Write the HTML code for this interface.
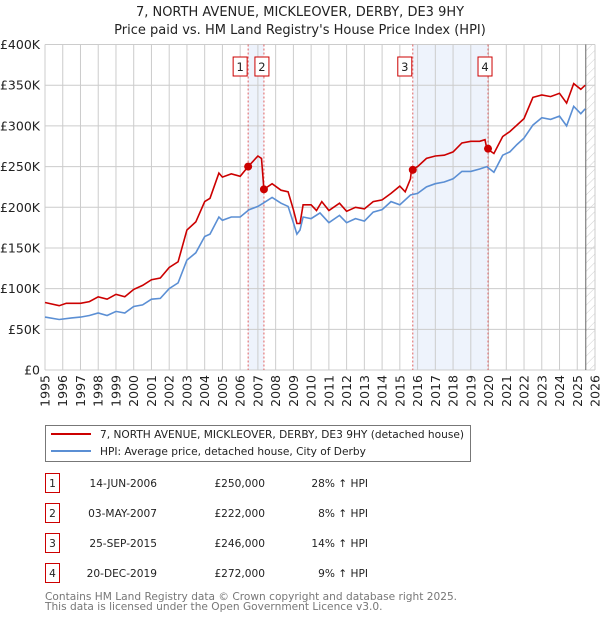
<!DOCTYPE html>
<html><head><meta charset="utf-8"><style>
body{margin:0;background:#fff;font-family:"DejaVu Sans","Liberation Sans",sans-serif;}
svg text{font-family:"DejaVu Sans","Liberation Sans",sans-serif;}
</style></head><body>
<svg id="chart" width="600" height="620" viewBox="0 0 600 620" xmlns="http://www.w3.org/2000/svg">
<text x="300" y="16" text-anchor="middle" font-size="13" fill="#222">7, NORTH AVENUE, MICKLEOVER, DERBY, DE3 9HY</text>
<text x="300" y="34" text-anchor="middle" font-size="13" fill="#222">Price paid vs. HM Land Registry's House Price Index (HPI)</text>
<g id="plot"></g>
<g>
<rect x="45.5" y="425.5" width="425" height="36" fill="#fff" stroke="#777"/>
<line x1="51" y1="434" x2="91" y2="434" stroke="#cc0000" stroke-width="2"/>
<text x="100" y="438" font-size="10.6" fill="#222">7, NORTH AVENUE, MICKLEOVER, DERBY, DE3 9HY (detached house)</text>
<line x1="51" y1="451" x2="91" y2="451" stroke="#5b8fd4" stroke-width="2"/>
<text x="100" y="455" font-size="10.6" fill="#222">HPI: Average price, detached house, City of Derby</text>
</g>
<g id="table" font-size="10.6" fill="#222"></g>
<text x="45" y="600" font-size="10.6" fill="#777">Contains HM Land Registry data © Crown copyright and database right 2025.</text>
<text x="45" y="610" font-size="10.6" fill="#777">This data is licensed under the Open Government Licence v3.0.</text>
</svg>
<script>
const hpiYears=[1995,1995.8,1996.5,1997,1997.5,1998,1998.5,1999,1999.5,2000,2000.5,2001,2001.5,2002,2002.5,2003,2003.5,2004,2004.3,2004.8,2005,2005.5,2006,2006.5,2007,2007.3,2007.8,2008.3,2008.7,2009,2009.2,2009.37,2009.55,2010,2010.5,2011,2011.6,2012,2012.5,2013,2013.5,2014,2014.5,2015,2015.6,2016,2016.5,2017,2017.5,2018,2018.5,2019,2019.5,2019.9,2020.3,2020.8,2021.2,2021.6,2022,2022.5,2023,2023.5,2024,2024.4,2024.8,2025.2,2025.45];
const hpiValues=[65,62,64,65,67,70,67,72,70,78,80,87,88,100,107,135,144,164,167,188,184,188,188,197,201,205,212,205,201,181,167,172,188,186,193,181,190,181,186,183,194,197,207,203,215,217,225,229,231,235,244,244,247,250,243,264,268,277,285,301,310,308,312,300,324,315,321];
const propYears=[1995,1995.8,1996.2,1997,1997.5,1998,1998.5,1999,1999.5,2000,2000.5,2001,2001.5,2002,2002.5,2003,2003.5,2004,2004.3,2004.8,2005,2005.5,2006,2006.45,2007,2007.2,2007.34,2007.8,2008.3,2008.7,2009,2009.2,2009.37,2009.55,2010,2010.3,2010.6,2011,2011.6,2012,2012.5,2013,2013.5,2014,2014.5,2015,2015.3,2015.6,2015.65,2016,2016.5,2017,2017.5,2018,2018.5,2019,2019.5,2019.8,2019.9,2020.3,2020.8,2021.2,2021.6,2022,2022.5,2023,2023.5,2024,2024.4,2024.8,2025.2,2025.45];
const propValues=[83,79,82,82,84,90,87,93,90,99,104,111,113,126,133,172,182,207,211,242,237,241,238,250,263,260,222,229,221,219,197,180,180,203,203,196,207,196,205,195,200,198,207,209,217,226,219,235,246,250,260,263,264,268,279,281,281,283,272,266,287,293,301,309,335,338,336,340,328,352,345,350];
const saleNums=["1","2","3","4"];
const saleYears=[2006.45,2007.34,2015.73,2019.97];
const salePrices=[250,222,246,272];
const saleDates=["14-JUN-2006","03-MAY-2007","25-SEP-2015","20-DEC-2019"];
const saleLabels=["£250,000","£222,000","£246,000","£272,000"];
const salePcts=["28% \u2191 HPI","8% \u2191 HPI","14% \u2191 HPI","9% \u2191 HPI"];
const yTicks=[0,50,100,150,200,250,300,350,400];
const yTickLabels=["£0","£50K","£100K","£150K","£200K","£250K","£300K","£350K","£400K"];
const xTicks=[1995,1996,1997,1998,1999,2000,2001,2002,2003,2004,2005,2006,2007,2008,2009,2010,2011,2012,2013,2014,2015,2016,2017,2018,2019,2020,2021,2022,2023,2024,2025,2026];
const dataEndYear=2025.48;

const NS="http://www.w3.org/2000/svg";
const L=45,R=595,T=44.5,B=370;
const xs=y=>L+(y-1995)/(2026-1995)*(R-L);
const ys=v=>B-v/400*(B-T);
const plot=document.getElementById('plot');
function mk(tag,attrs,parent){const e=document.createElementNS(NS,tag);for(const k in attrs)e.setAttribute(k,attrs[k]);(parent||plot).appendChild(e);return e;}

let b=mk('rect',{x:xs(saleYears[0]),y:T,width:xs(saleYears[1])-xs(saleYears[0]),height:B-T,fill:'#eef3fc'});


b=mk('rect',{x:xs(saleYears[2]),y:T,width:xs(saleYears[3])-xs(saleYears[2]),height:B-T,fill:'#eef3fc'});



yTicks.forEach((v,i)=>{
  const g=mk('line',{x1:L,x2:R,y1:ys(v),y2:ys(v),stroke:'#cccccc','stroke-width':1});
  
  
  const t=mk('text',{x:L-5,y:ys(v)+4.5,'text-anchor':'end','font-size':12.5,fill:'#222'});
  t.textContent=yTickLabels[i];
  
  
});
xTicks.forEach(yr=>{
  const g=mk('line',{x1:xs(yr),x2:xs(yr),y1:T,y2:B,stroke:'#cccccc','stroke-width':1});
  
  
  const t=mk('text',{x:0,y:0,'text-anchor':'end','font-size':12.5,fill:'#222',transform:`translate(${xs(yr)+4.5},${B+5}) rotate(-90)`});
  t.textContent=yr;
  
  
});

const defs=mk('defs',{});
const pat=mk('pattern',{id:'hatch',width:6,height:6,patternUnits:'userSpaceOnUse',patternTransform:'rotate(45)'},defs);
mk('line',{x1:0,y1:0,x2:0,y2:6,stroke:'#cfcfcf','stroke-width':1},pat);
let h=mk('rect',{x:xs(dataEndYear),y:T,width:R-xs(dataEndYear),height:B-T,fill:'url(#hatch)'});


let el=mk('line',{x1:xs(dataEndYear),x2:xs(dataEndYear),y1:T,y2:B,stroke:'#666','stroke-width':1});



saleYears.forEach((yr,i)=>{
  const v=mk('line',{x1:xs(yr),x2:xs(yr),y1:T,y2:B,stroke:'#e06060','stroke-width':1,'stroke-dasharray':'2,2'});
  
  
});

function path(xsA,vs){return xsA.map((x,i)=>(i?'L':'M')+xs(x).toFixed(1)+','+ys(vs[i]).toFixed(1)).join('');}
const hp=mk('path',{d:path(hpiYears,hpiValues),fill:'none',stroke:'#5b8fd4','stroke-width':1.6});


const pp=mk('path',{d:path(propYears,propValues),fill:'none',stroke:'#cc0000','stroke-width':1.6});



saleYears.forEach((yr,i)=>{
  const c=mk('circle',{cx:xs(yr),cy:ys(salePrices[i]),r:4,fill:'#cc0000'});
  
  
  const bxx=[xs(yr)-15,xs(yr)-9,xs(yr)-15,xs(yr)-10][i];
  const r=mk('rect',{x:bxx,y:57,width:14,height:19,fill:'#fff',stroke:'#cc0000','stroke-width':1});
  
  
  const t=mk('text',{x:bxx+7,y:71,'text-anchor':'middle','font-size':11.5,fill:'#222'});
  t.textContent=saleNums[i];
  
  
});

const tbl=document.getElementById('table');
saleNums.forEach((n,i)=>{
  const cy=483+i*30;
  const r=mk('rect',{x:45.5,y:cy-9.5,width:14,height:19,fill:'#fff',stroke:'#cc0000','stroke-width':1},tbl);
  
  
  const t0=mk('text',{x:52.5,y:cy+4,'text-anchor':'middle'},tbl);t0.textContent=n;
  
  
  const t1=mk('text',{x:157,y:cy+4,'text-anchor':'end'},tbl);t1.textContent=saleDates[i];
  
  
  const t2=mk('text',{x:265,y:cy+4,'text-anchor':'end'},tbl);t2.textContent=saleLabels[i];
  
  
  const t3=mk('text',{x:368,y:cy+4,'text-anchor':'end'},tbl);t3.textContent=salePcts[i];
  
  
});
</script>
</body></html>
